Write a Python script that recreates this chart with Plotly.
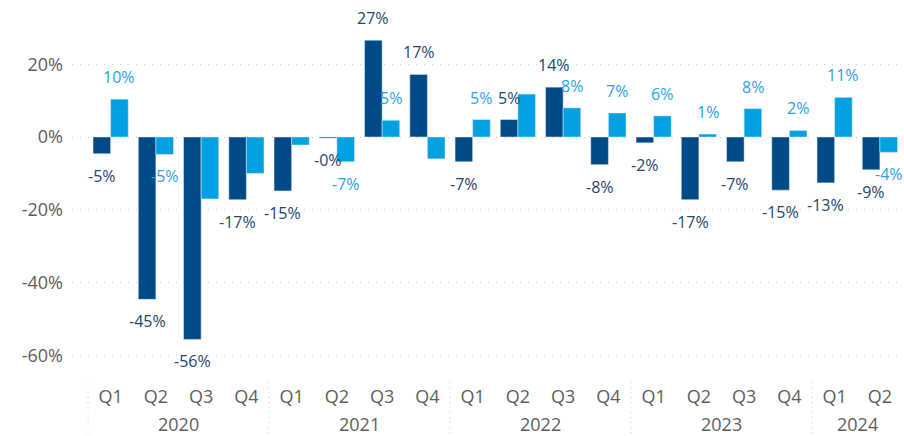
import plotly.graph_objects as go

years = ["2020", "2021", "2022", "2023", "2024"]
quarters_per_year = [4, 4, 4, 4, 2]
quarter_labels = ["Q1", "Q2", "Q3", "Q4"] * 4 + ["Q1", "Q2"]

series_dark = [-4.6, -44.6, -55.6, -17.2, -14.8, -0.3, 26.6, 17.2,
               -6.8, 4.8, 13.7, -7.6, -1.6, -17.2, -6.8, -14.6, -12.6, -9.0]
series_light = [10.4, -4.8, -17.0, -10.0, -2.2, -6.8, 4.6, -6.0,
                4.8, 11.8, 8.0, 6.6, 5.8, 0.8, 7.8, 1.8, 10.9, -4.2]
show_dark = [True] * 18
show_light = [True, True, False, False, False, True, True, False,
              True, False, True, True, True, True, True, True, True, True]

y_ticks = [-60, -40, -20, 0, 20]

DARK = "#004b87"
LIGHT = "#00a0e3"
DARK_TXT = "#23476b"
LIGHT_TXT = "#2b9fe0"
AXIS_TXT = "#605e5c"
GRID = "#c8c8c8"
FONT = "Open Sans"
BARGAP = 0.222

n = len(quarter_labels)
xs = list(range(n))

fig = go.Figure()
fig.add_trace(go.Bar(x=xs, y=series_dark, marker_color=DARK, name="dark"))
fig.add_trace(go.Bar(x=xs, y=series_light, marker_color=LIGHT, name="light"))

half = (1 - BARGAP) / 4
annotations = []
for i in xs:
    for vals, shows, off, col in ((series_dark, show_dark, -half, DARK_TXT),
                                  (series_light, show_light, half, LIGHT_TXT)):
        v = vals[i]
        if not shows[i]:
            continue
        annotations.append(dict(
            x=i + off, y=v, xref="x", yref="y", text=f"{v:.0f}%",
            showarrow=False, yanchor="middle", xanchor="center",
            yshift=22 if v >= 0 else -22,
            font=dict(family=FONT, size=16, color=col)))

# year labels and separators
start = 0
shapes = []
for yr, cnt in zip(years, quarters_per_year):
    annotations.append(dict(
        x=start + (cnt - 1) / 2, y=-0.122, xref="x", yref="paper", text=yr,
        showarrow=False, yanchor="middle", xanchor="center",
        font=dict(family=FONT, size=18, color=AXIS_TXT)))
    shapes.append(dict(type="line", xref="x", yref="paper",
                       x0=start - 0.5, x1=start - 0.5, y0=-0.011, y1=-0.16,
                       line=dict(color=GRID, width=1, dash="1px,4px")))
    start += cnt

fig.update_layout(
    width=904, height=436,
    margin=dict(l=72, r=0, t=2, b=58),
    paper_bgcolor="white", plot_bgcolor="white",
    barmode="group", bargap=BARGAP, bargroupgap=0,
    showlegend=False,
    annotations=annotations, shapes=shapes,
    font=dict(family=FONT, color=AXIS_TXT),
)
fig.update_xaxes(
    range=[-0.854, 17.533], tickmode="array", tickvals=xs, ticktext=quarter_labels,
    showgrid=False, zeroline=False, showline=False, ticks="", automargin=False,
    tickfont=dict(family=FONT, size=18, color=AXIS_TXT), ticklabelstandoff=6,
)
fig.update_yaxes(
    range=[-66.2, 37.09], tickmode="array", tickvals=y_ticks,
    ticktext=[f"{t}%" for t in y_ticks],
    showgrid=True, gridcolor=GRID, gridwidth=1, griddash="1px,7px",
    zeroline=False, showline=False, ticks="", automargin=False,
    tickfont=dict(family=FONT, size=18, color=AXIS_TXT), ticklabelstandoff=8,
)

fig.write_html("out.html", config={"displayModeBar": False},
               post_script="document.body.style.margin='0';")
